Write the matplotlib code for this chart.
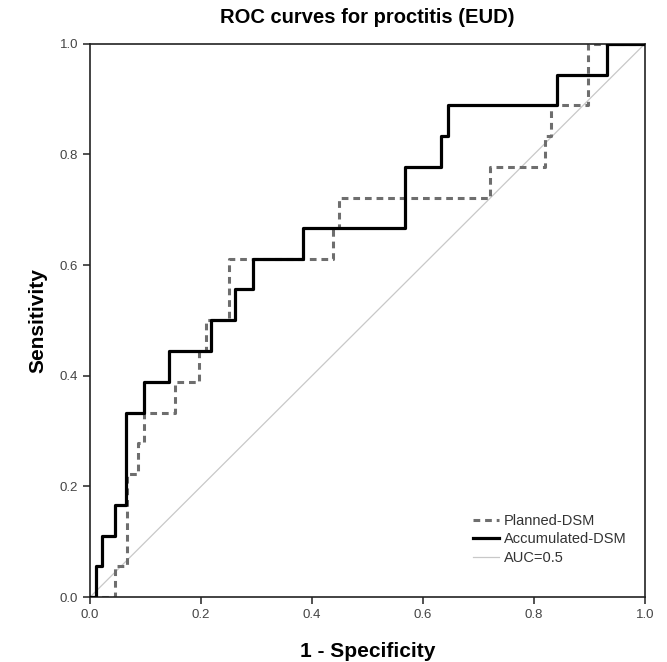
import matplotlib.pyplot as plt

plt.rcParams['font.family'] = ['Liberation Sans', 'DejaVu Sans']

# ROC step corners (1 - specificity, sensitivity)
planned_fpr = [0, 0.045, 0.066, 0.087, 0.097, 0.153, 0.197, 0.209, 0.251,
               0.437, 0.448, 0.720, 0.820, 0.831, 0.898, 1.0]
planned_tpr = [0, 0.056, 0.222, 0.278, 0.333, 0.389, 0.444, 0.500, 0.611,
               0.667, 0.722, 0.778, 0.833, 0.889, 1.0, 1.0]

accum_fpr = [0, 0.010, 0.022, 0.045, 0.065, 0.098, 0.142, 0.218, 0.262,
             0.294, 0.383, 0.567, 0.633, 0.645, 0.842, 0.931, 1.0]
accum_tpr = [0, 0.056, 0.111, 0.167, 0.333, 0.389, 0.444, 0.500, 0.556,
             0.611, 0.667, 0.778, 0.833, 0.889, 0.944, 1.0, 1.0]

ref_x = [0, 1]
ref_y = [0, 1]

ticks = [0.0, 0.2, 0.4, 0.6, 0.8, 1.0]

fig = plt.figure(figsize=(6.67, 6.62), dpi=100)
ax = fig.add_axes([0.135, 0.098, 0.832, 0.836])

ax.plot(ref_x, ref_y, color="#c8c8c8", lw=0.9, label="AUC=0.5", zorder=1)
ax.plot(planned_fpr, planned_tpr, drawstyle="steps-post", color="#6e6e6e",
        lw=2.2, linestyle=(0, (2.2, 1.6)), label="Planned-DSM", zorder=2)
ax.plot(accum_fpr, accum_tpr, drawstyle="steps-post", color="black",
        lw=2.3, label="Accumulated-DSM", zorder=3)

ax.set_xlim(0, 1)
ax.set_ylim(0, 1)
ax.set_xticks(ticks)
ax.set_yticks(ticks)
ax.set_xticklabels([f"{t:.1f}" for t in ticks])
ax.set_yticklabels([f"{t:.1f}" for t in ticks])
ax.tick_params(direction="out", length=5, width=1.1, labelsize=9.5,
               labelcolor="#444444", color="#222222")
for s in ax.spines.values():
    s.set_color("#222222")
    s.set_linewidth(1.2)

ax.set_title("ROC curves for proctitis (EUD)", fontsize=14.5,
             fontweight="bold", pad=15)
ax.set_xlabel("1 - Specificity", fontsize=15, fontweight="bold", labelpad=15)
ax.set_ylabel("Sensitivity", fontsize=15, fontweight="bold", labelpad=9)

h, l = ax.get_legend_handles_labels()
order = [1, 2, 0]
ax.legend([h[i] for i in order], [l[i] for i in order], loc="lower right",
          bbox_to_anchor=(0.99, 0.035), frameon=False, fontsize=10.5,
          handlelength=1.8, handletextpad=0.3, labelspacing=0.3,
          labelcolor="#333333")

fig.savefig("out.png", dpi=100)
